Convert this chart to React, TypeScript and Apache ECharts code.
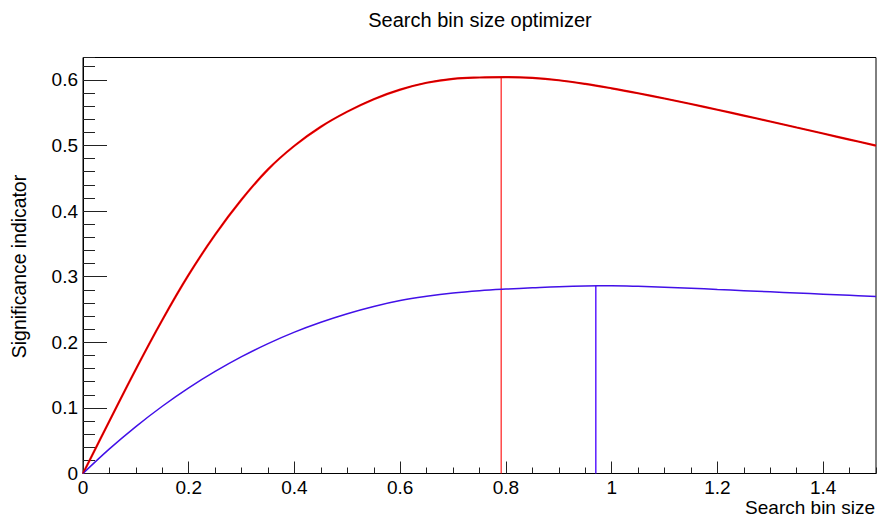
import React, { useEffect, useRef } from 'react';
import * as echarts from 'echarts';

const binSizes = [
  0, 0.05, 0.1, 0.15, 0.2, 0.25, 0.3, 0.35, 0.4, 0.45, 0.5, 0.55, 0.6, 0.65, 0.7, 0.75,
  0.8, 0.85, 0.9, 0.95, 1.0, 1.05, 1.1, 1.15, 1.2, 1.25, 1.3, 1.35, 1.4, 1.45, 1.5,
];
const redSignificance = [
  0, 0.08, 0.159, 0.234, 0.303, 0.364, 0.4175, 0.4635, 0.4995, 0.5285, 0.5515, 0.5705, 0.585, 0.5955, 0.6015, 0.6035,
  0.604, 0.6028, 0.5993, 0.5938, 0.587, 0.5795, 0.5715, 0.5631, 0.5544, 0.5455, 0.5365, 0.5273, 0.5181, 0.5089, 0.4997,
];
const blueSignificance = [
  0, 0.0375, 0.0715, 0.1025, 0.1305, 0.1555, 0.178, 0.198, 0.2155, 0.2305, 0.2435, 0.2545, 0.2635, 0.27, 0.275, 0.2785,
  0.281, 0.283, 0.2848, 0.2858, 0.286, 0.2853, 0.284, 0.2823, 0.2805, 0.2787, 0.2769, 0.2751, 0.2733, 0.2716, 0.2698,
];
const redOptimum = [0.791, 0.604];
const blueOptimum = [0.97, 0.2862];

const titleText = 'Search bin size optimizer';
const xTitle = 'Search bin size';
const yTitle = 'Significance indicator';

const FONT = "'Liberation Sans', Arial, Helvetica, sans-serif";

export default function App() {
  const ref = useRef<HTMLDivElement>(null);
  useEffect(() => {
    if (!ref.current) return;
    const chart = echarts.init(ref.current, undefined, { renderer: 'svg' });
    const labelStyle = { fontSize: 19, fontFamily: FONT, color: '#000' };
    const curve = (ys: number[]) => binSizes.map((x, i) => [x, ys[i]]);
    chart.setOption({
      animation: false,
      backgroundColor: '#fff',
      grid: {
        left: 83,
        top: 57.5,
        right: 2,
        bottom: 43.5,
        show: true,
        borderColor: '#000',
        borderWidth: 1,
      },
      xAxis: [
        {
          type: 'value', min: 0, max: 1.5, interval: 0.2, position: 'bottom',
          axisLine: { show: true, onZero: false, lineStyle: { color: '#000', width: 1 } },
          axisTick: { show: true, inside: true, length: 12, lineStyle: { color: '#222' } },
          axisLabel: { ...labelStyle, margin: 4, showMaxLabel: false },
          splitLine: { show: false },
        },
        {
          type: 'value', min: 0, max: 1.5, interval: 0.05, position: 'bottom',
          axisLine: { show: false },
          axisTick: { show: true, inside: true, length: 6, lineStyle: { color: '#222' } },
          axisLabel: { show: false },
          splitLine: { show: false },
        },
      ],
      yAxis: [
        {
          type: 'value', min: 0, max: 0.634, interval: 0.1, position: 'left',
          axisLine: { show: true, onZero: false, lineStyle: { color: '#000', width: 1 } },
          axisTick: { show: true, inside: true, length: 24, lineStyle: { color: '#222' } },
          axisLabel: { ...labelStyle, margin: 5, showMaxLabel: false },
          splitLine: { show: false },
        },
        {
          type: 'value', min: 0, max: 0.634, interval: 0.02, position: 'left',
          axisLine: { show: false },
          axisTick: { show: true, inside: true, length: 12, lineStyle: { color: '#222' } },
          axisLabel: { show: false },
          splitLine: { show: false },
        },
      ],
      series: [
        {
          type: 'line', xAxisIndex: 0, yAxisIndex: 0, silent: true,
          data: curve(redSignificance),
          smooth: 0.4, symbol: 'none', showSymbol: false,
          lineStyle: { color: '#ff0000', width: 2.2 }, z: 3,
        },
        {
          type: 'line', xAxisIndex: 0, yAxisIndex: 0, silent: true,
          data: curve(redSignificance),
          smooth: 0.4, symbol: 'none', showSymbol: false,
          lineStyle: { color: '#a00000', width: 0.8 }, z: 4,
        },
        {
          type: 'line', xAxisIndex: 0, yAxisIndex: 0, silent: true,
          data: curve(blueSignificance),
          smooth: 0.4, symbol: 'none', showSymbol: false,
          lineStyle: { color: '#4210e8', width: 1.5 }, z: 3,
        },
        {
          type: 'line', xAxisIndex: 0, yAxisIndex: 0, silent: true,
          data: [[redOptimum[0], 0], [redOptimum[0], redOptimum[1]]],
          symbol: 'none', showSymbol: false,
          lineStyle: { color: '#ff1a1a', width: 1.2 }, z: 2,
        },
        {
          type: 'line', xAxisIndex: 0, yAxisIndex: 0, silent: true,
          data: [[blueOptimum[0], 0], [blueOptimum[0], blueOptimum[1]]],
          symbol: 'none', showSymbol: false,
          lineStyle: { color: '#5a1cff', width: 1.5 }, z: 2,
        },
      ],
      graphic: [
        {
          type: 'text', x: 480, y: 19.6,
          style: { text: titleText, fontSize: 20, fontFamily: FONT, fill: '#000', align: 'center', verticalAlign: 'middle' },
        },
        {
          type: 'text', x: 875, y: 507.4,
          style: { text: xTitle, fontSize: 19, fontFamily: FONT, fill: '#000', align: 'right', verticalAlign: 'middle' },
        },
        {
          type: 'text', x: 18.7, y: 266.5, rotation: Math.PI / 2,
          style: { text: yTitle, fontSize: 19.4, fontFamily: FONT, fill: '#000', align: 'center', verticalAlign: 'middle' },
        },
      ],
    });
    return () => chart.dispose();
  }, []);
  return (
    <div
      ref={ref}
      style={{ position: 'absolute', left: 0, top: 0, width: 878, height: 517, background: '#fff' }}
    />
  );
}
